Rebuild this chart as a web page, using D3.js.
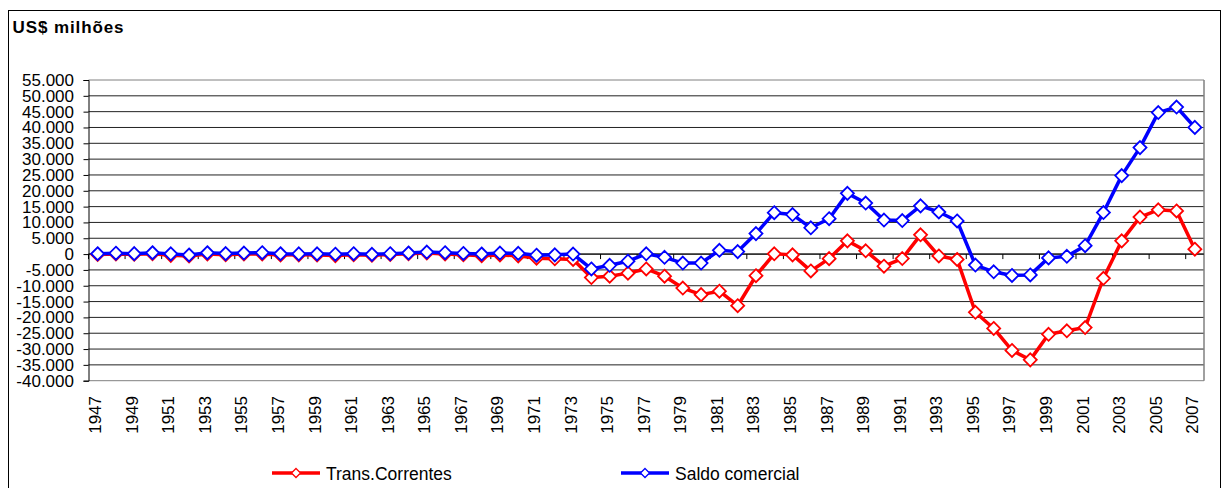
<!DOCTYPE html>
<html>
<head>
<meta charset="utf-8">
<script src="https://cdn.jsdelivr.net/npm/d3@7"></script>
<style>
  body { margin: 0; background: #fff; }
  svg { font-family: "Liberation Sans", Arial, sans-serif; }
</style>
</head>
<body>
<svg width="1223" height="488"></svg>
<script>
// anos 1947-2007
var years = d3.range(1947, 2008);

// Transações correntes (US$ milhões)
var transCorrentes = [
  -151, 2, -82, 140, -403, -624, 55, -195, 2, 57,
  -264, -248, -311, -478, -222, -389, -114, 140, 368, 54,
  -237, -508, -281, -562, -1307, -1489, -1688, -7400, -7000, -6017,
  -4700, -6990, -10742, -12807, -11734, -16310, -6837, 95, -248, -5323,
  -1438, 4180, 1033, -3823, -1407, 6089, -592, -1689, -18384, -23502,
  -30452, -33416, -25335, -24225, -23215, -7637, 4177, 11679, 13985, 13643,
  1551
];

// Saldo comercial (US$ milhões)
var saldoComercial = [
  108, 283, 140, 425, 68, -286, 424, 148, 320, 437,
  107, 65, 72, -23, 113, -89, 112, 344, 655, 438,
  213, 26, 318, 232, -341, -244, 7, -4690, -3540, -2255,
  97, -1024, -2839, -2823, 1202, 780, 6470, 13090, 12486, 8304,
  11173, 19184, 16119, 10752, 10580, 15239, 13299, 10466, -3466, -5599,
  -6753, -6575, -1199, -698, 2650, 13121, 24794, 33641, 44703, 46457,
  40032
];

var yTicks = d3.range(-40000, 55001, 5000);
var labelYears = years.filter(function(d) { return (d - 1947) % 2 == 0; });

var series = [
  { name: "Trans.Correntes", values: transCorrentes, color: "#ff0000", lx: 272 },
  { name: "Saldo comercial", values: saldoComercial, color: "#0000ff", lx: 621 }
];

var svg = d3.select("svg");

// moldura do gráfico
svg.append("rect")
  .attr("x", 8.5).attr("y", 10.5)
  .attr("width", 1212).attr("height", 500)
  .attr("fill", "none").attr("stroke", "#000").attr("stroke-width", 1);

svg.append("text")
  .attr("x", 12.5).attr("y", 32.5)
  .attr("font-size", 17).attr("font-weight", "bold")
  .attr("letter-spacing", 0.9)
  .text("US$ milhões");

var plotL = 88.5, plotR = 1204, plotT = 80, plotB = 380.7;

var x = d3.scaleBand().domain(years).range([plotL, plotR]).padding(0);
var y = d3.scaleLinear().domain([-40000, 55000]).range([plotB, plotT]);
var cx = function(i) { return x(years[i]) + x.bandwidth() / 2; };

var fmt = d3.formatLocale({ decimal: ",", thousands: ".", grouping: [3], currency: ["", ""], minus: "-" }).format(",d");

// linhas de grade
svg.append("g").selectAll("line")
  .data(yTicks)
  .enter().append("line")
    .attr("x1", plotL).attr("x2", plotR)
    .attr("y1", function(d) { return y(d); })
    .attr("y2", function(d) { return y(d); })
    .attr("stroke", function(d) { return (d == 55000 || d == -40000) ? "#808080" : "#222"; })
    .attr("stroke-width", 1);

// borda direita da área de plotagem
svg.append("line")
  .attr("x1", plotR).attr("x2", plotR).attr("y1", plotT).attr("y2", plotB)
  .attr("stroke", "#808080").attr("stroke-width", 1.5);

// eixo Y
var yAxis = svg.append("g")
  .attr("transform", "translate(" + plotL + ",0)")
  .call(d3.axisLeft(y).tickValues(yTicks).tickSize(5).tickPadding(9.5).tickFormat(fmt));
yAxis.select(".domain").attr("stroke", "#000");
yAxis.selectAll(".tick line").attr("stroke", "#000");
yAxis.selectAll("text")
  .attr("font-family", "Liberation Sans, Arial, sans-serif")
  .attr("font-size", 17).attr("fill", "#000");

// eixo X no zero, marcas a cada 2 categorias
svg.append("line")
  .attr("x1", plotL).attr("x2", plotR).attr("y1", y(0)).attr("y2", y(0))
  .attr("stroke", "#000").attr("stroke-width", 1);
svg.append("g").selectAll("line")
  .data(years.filter(function(d, i) { return i % 2 == 0; }))
  .enter().append("line")
    .attr("x1", function(d) { return x(d); })
    .attr("x2", function(d) { return x(d); })
    .attr("y1", y(0)).attr("y2", y(0) + 5)
    .attr("stroke", "#000");

// rótulos dos anos
var xAxis = svg.append("g")
  .attr("transform", "translate(0," + plotB + ")")
  .call(d3.axisBottom(x).tickValues(labelYears).tickSize(0));
xAxis.select(".domain").remove();
xAxis.selectAll("text")
  .attr("font-family", "Liberation Sans, Arial, sans-serif")
  .attr("font-size", 17).attr("fill", "#000")
  .attr("transform", "rotate(-90)")
  .attr("text-anchor", "end")
  .attr("x", -15.3).attr("y", -2.5).attr("dy", "0.35em");

function diamond(sel, color) {
  sel.attr("d", "M0,-6.5L6.5,0L0,6.5L-6.5,0Z")
    .attr("fill", "#fff")
    .attr("stroke", color)
    .attr("stroke-width", 1.8);
}

var line = d3.line()
  .x(function(d, i) { return cx(i); })
  .y(function(d) { return y(d); });

series.forEach(function(s) {
  var g = svg.append("g");
  g.append("path")
    .attr("d", line(s.values))
    .attr("fill", "none")
    .attr("stroke", s.color)
    .attr("stroke-width", 3.5)
    .attr("stroke-linejoin", "round");
  g.selectAll(".pt")
    .data(s.values)
    .enter().append("path")
      .attr("class", "pt")
      .attr("transform", function(d, i) { return "translate(" + cx(i) + "," + y(d) + ")"; })
      .call(diamond, s.color);

  // legenda
  var lg = svg.append("g");
  lg.append("line")
    .attr("x1", s.lx).attr("x2", s.lx + 48)
    .attr("y1", 473).attr("y2", 473)
    .attr("stroke", s.color).attr("stroke-width", 3.5);
  lg.append("path")
    .attr("transform", "translate(" + (s.lx + 24) + ",473) scale(0.7)")
    .call(diamond, s.color);
  lg.append("text")
    .attr("x", s.lx + 54).attr("y", 479.5)
    .attr("font-size", 17.5)
    .text(s.name);
});
</script>
</body>
</html>
